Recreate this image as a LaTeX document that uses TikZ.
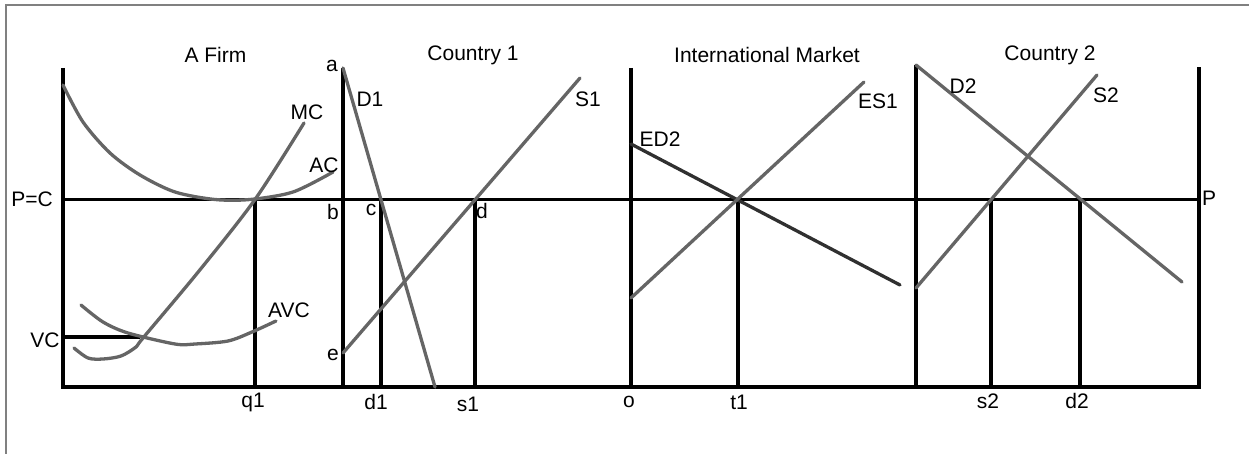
\documentclass[tikz,border=0pt]{standalone}
\usepackage{fontspec}
\setmainfont{Liberation Sans}
\definecolor{curvegray}{HTML}{656565}
\definecolor{darkcurve}{HTML}{303030}
\definecolor{framegray}{HTML}{808080}
\begin{document}
\begin{tikzpicture}[x=1pt,y=-1pt,
  axisline/.style={line width=3.8pt, black, line join=miter},
  curve/.style={line width=3.3pt, curvegray, line cap=round, line join=round},
  darkline/.style={line width=3.3pt, darkcurve, line cap=round},
  lbl/.style={font=\fontsize{21}{24}\selectfont, inner sep=0pt, anchor=center},
]
\useasboundingbox (0,0) rectangle (1249,454);
% frame
\draw[framegray, line width=1.6pt] (6,454) -- (6,5) -- (1249,5);

% key coordinates
\coordinate (fTop) at (63,68);
\coordinate (o0) at (63,387);
\coordinate (rBot) at (1199,387);
\coordinate (rTop) at (1199,67);
\coordinate (pL) at (63,199.5);
\coordinate (pR) at (1199,199.5);
\coordinate (c1Top) at (343,68);
\coordinate (c1Bot) at (343,387);
\coordinate (imTop) at (631,68);
\coordinate (imBot) at (631,387);
\coordinate (c2Top) at (916,65);
\coordinate (c2Bot) at (916,387);

% axes
\draw[axisline] (fTop) -- (o0) -- (rBot) -- (rTop);
\draw[axisline] (c1Top) -- (c1Bot);
\draw[axisline] (imTop) -- (imBot);
\draw[axisline] (c2Top) -- (c2Bot);
\draw[axisline] (pL) -- (pR);
\draw[axisline] (63,337) -- (140,337);
\foreach \xx in {255,381,475,738,991,1080}
  \draw[axisline] (\xx,199.5) -- (\xx,387);

% firm curves
\draw[curve] plot[smooth, tension=0.5] coordinates {(63,85) (83,122) (110,153) (140,175) (175,192) (215,199.5) (250,199.5) (293,192) (333,172)};
\draw[curve] plot[smooth, tension=0.5] coordinates {(74,348) (88,358) (103,359) (121,356) (136,347) (143,338) (199,271) (255,199.5) (304,123)};
\draw[curve] plot[smooth, tension=0.5] coordinates {(81,305) (103,322) (128,333) (175,344) (195,344) (228,341) (252,332) (276,321)};

% country 1
\coordinate (d1a) at (343,68);
\coordinate (d1b) at (435,387);
\coordinate (s1a) at (343,353);
\coordinate (s1b) at (580,78);
\draw[curve] (d1a) -- (d1b);
\draw[curve] (s1a) -- (s1b);

% international market
\coordinate (ed2a) at (631,144);
\coordinate (ed2b) at (900,285);
\coordinate (es1a) at (631,298);
\coordinate (es1b) at (864,82);
\draw[darkline] (ed2a) -- (ed2b);
\draw[curve] (es1a) -- (es1b);

% country 2
\coordinate (d2a) at (916,65);
\coordinate (d2b) at (1182,282);
\coordinate (s2a) at (916,288);
\coordinate (s2b) at (1097,75);
\draw[curve] (d2a) -- (d2b);
\draw[curve] (s2a) -- (s2b);

% labels
\node[lbl] (tFirm) at (215.5,55) {A Firm};
\node[lbl] (tC1) at (473,55) {Country 1};
\node[lbl] (tIM) at (767,55) {International Market};
\node[lbl] (tC2) at (1050,55) {Country 2};
\node[lbl] (la) at (332,66) {a};
\node[lbl] (lD1) at (370,99) {D1};
\node[lbl] (lMC) at (307,112) {MC};
\node[lbl] (lAC) at (324,165) {AC};
\node[lbl] (lPC) at (32,199) {P=C};
\node[lbl] (lb) at (333,212) {b};
\node[lbl] (lc) at (371,210) {c};
\node[lbl] (ld) at (482,211) {d};
\node[lbl] (lS1) at (588,99) {S1};
\node[lbl] (lAVC) at (289,310) {AVC};
\node[lbl] (lVC) at (45,340) {VC};
\node[lbl] (le) at (333,355) {e};
\node[lbl] (lq1) at (253,402) {q1};
\node[lbl] (ld1) at (376,402) {d1};
\node[lbl] (ls1) at (468,404) {s1};
\node[lbl] (lo) at (629,402) {o};
\node[lbl] (lt1) at (739,402) {t1};
\node[lbl] (lED2) at (660,139) {ED2};
\node[lbl] (lES1) at (878,101) {ES1};
\node[lbl] (lD2) at (963,86) {D2};
\node[lbl] (lS2) at (1106,95) {S2};
\node[lbl] (lP) at (1209,198) {P};
\node[lbl] (ls2) at (988,401) {s2};
\node[lbl] (ld2) at (1077,401) {d2};
\end{tikzpicture}
\end{document}
